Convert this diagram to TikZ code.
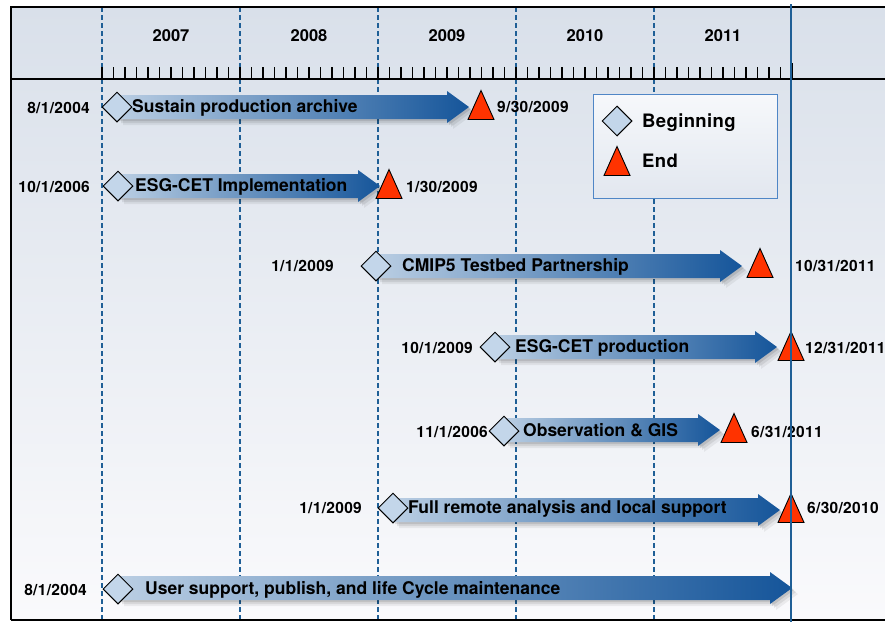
\documentclass[tikz,border=0pt]{standalone}
\usepackage{fontspec}
\setmainfont{TeX Gyre Heros}
\usetikzlibrary{shapes.geometric}
\definecolor{bgtop}{HTML}{D9E0EA}
\definecolor{bgbot}{HTML}{FAFAFC}
\definecolor{gridblue}{HTML}{1F5F96}
\definecolor{arrlight}{HTML}{BACEE3}
\definecolor{arrdark}{HTML}{15559A}
\definecolor{dfill}{HTML}{C3D6EA}
\definecolor{tred}{HTML}{FF3300}
\definecolor{legborder}{HTML}{4F86C6}
\definecolor{legtop}{HTML}{F6F8FB}
\definecolor{legbot}{HTML}{E2E7EF}
\tikzset{
  begmark/.style={diamond, draw=black, line width=1pt, fill=dfill, minimum width=30pt, minimum height=30pt, inner sep=0pt},
  endtri/.pic={\filldraw[fill=tred, draw=black, line width=0.9pt, line join=miter] (-13,14.5) -- (13,14.5) -- (0,-14.5) -- cycle;},
  yearlbl/.style={font=\fontsize{16.5}{19}\selectfont\bfseries, inner sep=0pt, anchor=base},
  datelbl/.style={font=\fontsize{15.5}{18}\selectfont\bfseries\addfontfeatures{LetterSpace=2}, inner sep=0pt},
  tasklbl/.style={font=\fontsize{17.5}{21}\selectfont\bfseries, inner sep=0pt, anchor=base west},
  leglbl/.style={font=\fontsize{18.5}{22}\selectfont\bfseries\addfontfeatures{LetterSpace=2}, inner sep=0pt, anchor=base west},
  gridline/.style={gridblue, line width=1.1pt, dash pattern=on 5pt off 3pt},
  tickline/.style={black, line width=1.1pt},
  frameline/.style={black, line width=1.4pt},
}
\newcommand\tkarrow[3]{%
  \foreach \o/\op in {6/0.06,4/0.08,2/0.10}{%
    \fill[black,opacity=\op] ({#2+\o},{#1-12+\o}) -- ({#3-22+\o},{#1-12+\o}) -- ({#3-22+\o},{#1-16+\o}) -- ({#3+\o},{#1+\o}) -- ({#3-22+\o},{#1+16+\o}) -- ({#3-22+\o},{#1+12+\o}) -- ({#2+\o},{#1+12+\o}) -- cycle;}
  \shade[left color=arrlight, right color=arrdark] (#2,{#1-12}) -- ({#3-22},{#1-12}) -- ({#3-22},{#1-16}) -- (#3,#1) -- ({#3-22},{#1+16}) -- ({#3-22},{#1+12}) -- (#2,{#1+12}) -- cycle;}
\begin{document}
\begin{tikzpicture}[x=1pt,y=-1pt]
\useasboundingbox (0,0) rectangle (885,622);
\fill[white] (0,0) rectangle (885,622);
\shade[top color=bgtop, bottom color=bgbot] (11,7) rectangle (885,620);
% grid
\foreach \gx in {102,240,378,516,654}
  \draw[gridline] (\gx,7) -- (\gx,620);
% ticks
\foreach \i in {0,...,60}
  \draw[tickline] ({102+\i*11.5},67) -- ({102+\i*11.5},79);
\draw[tickline] (792,63) -- (792,79);
% frame
\draw[frameline] (11,620) -- (11,7) -- (885,7);
\draw[frameline] (11,620) -- (885,620);
\draw[frameline] (11,79) -- (885,79);
% years
\node[yearlbl] (y2007) at (171,41) {2007};
\node[yearlbl] (y2008) at (309,41) {2008};
\node[yearlbl] (y2009) at (447,41) {2009};
\node[yearlbl] (y2010) at (585,41) {2010};
\node[yearlbl] (y2011) at (723,41) {2011};
% legend
\shade[top color=legtop, bottom color=legbot, draw=legborder, line width=1pt] (593,94) rectangle (777,198);
\node[begmark] (legb) at (617,121) {};
\node[leglbl] (legbt) at (642,127) {Beginning};
\pic (lege) at (617,161) {endtri};
\node[leglbl] (leget) at (642,167) {End};
% row 1
\tkarrow{107}{117}{469}
\node[begmark] (b1) at (117,107) {};
\node[tasklbl] (t1) at (132,112.5) {Sustain production archive};
\pic (e1) at (481,105) {endtri};
\node[datelbl, anchor=base east] (s1) at (90,113) {8/1/2004};
\node[datelbl, anchor=base west] (f1) at (497,112) {9/30/2009};
% row 2
\tkarrow{186}{118}{380}
\node[begmark] (b2) at (118,186) {};
\node[tasklbl] (t2) at (135,191.5) {ESG-CET Implementation};
\pic (e2) at (389,184) {endtri};
\node[datelbl, anchor=base east] (s2) at (90,192.5) {10/1/2006};
\node[datelbl, anchor=base west] (f2) at (406,192) {1/30/2009};
% row 3
\tkarrow{266}{376}{742}
\node[begmark] (b3) at (376,266) {};
\node[tasklbl] (t3) at (402,271.5) {CMIP5 Testbed Partnership};
\pic (e3) at (760,263) {endtri};
\node[datelbl, anchor=base east] (s3) at (334,271.5) {1/1/2009};
\node[datelbl, anchor=base west] (f3) at (795,271.5) {10/31/2011};
% row 4
\tkarrow{347}{495}{777}
\node[begmark] (b4) at (495,347) {};
\node[tasklbl] (t4) at (515,352.5) {ESG-CET production};
\pic (e4) at (791,346) {endtri};
\node[datelbl, anchor=base east] (s4) at (473,353) {10/1/2009};
\node[datelbl, anchor=base west] (f4) at (805,353) {12/31/2011};
% row 5
\tkarrow{430}{504}{720}
\node[begmark] (b5) at (504,431) {};
\node[tasklbl] (t5) at (523,436) {Observation \& GIS};
\pic (e5) at (734,428) {endtri};
\node[datelbl, anchor=base east] (s5) at (488,437) {11/1/2006};
\node[datelbl, anchor=base west] (f5) at (751,437) {6/31/2011};
% row 6
\tkarrow{510}{393}{780}
\node[begmark] (b6) at (393,508) {};
\node[tasklbl] (t6) at (408,513.3) {Full remote analysis and local support};
\pic (e6) at (791,508) {endtri};
\node[datelbl, anchor=base east] (s6) at (362,513.3) {1/1/2009};
\node[datelbl, anchor=base west] (f6) at (807,513.3) {6/30/2010};
% row 7
\tkarrow{588}{118}{792}
\node[begmark] (b7) at (118,589) {};
\node[tasklbl] (t7) at (145,594) {User support, publish, and life Cycle maintenance};
\node[datelbl, anchor=base east] (s7) at (87,595) {8/1/2004};
% current line
\draw[gridblue, line width=1.3pt] (791,4) -- (791,622);
\end{tikzpicture}
\end{document}
